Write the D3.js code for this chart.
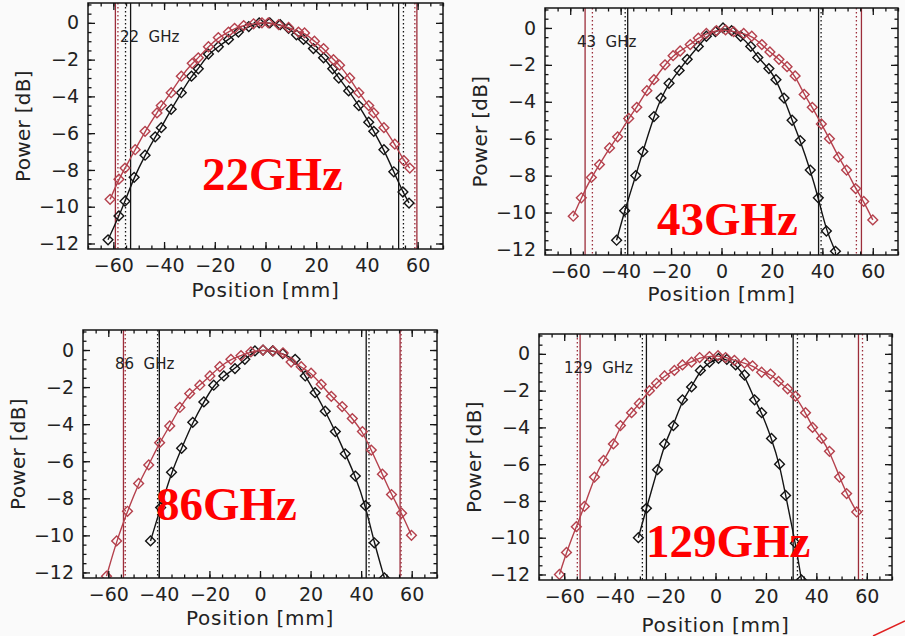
<!DOCTYPE html>
<html>
<head>
<meta charset="utf-8">
<script src="https://cdn.jsdelivr.net/npm/d3@7"></script>
<style>
  body { margin: 0; background: #fafafa; }
  svg { display: block; }
  text { font-family: "DejaVu Sans", sans-serif; }
</style>
</head>
<body>
<div id="chart"></div>
<script>
// beam profiles: position [mm], power [dB]
// k = black (narrow) profile, r = red (wide) profile

// 22 GHz
var pos22k = [-62.1,-57.8,-55.4,-51.8,-47.5,-43.5,-41.1,-37.2,-33.2,-29.2,-26.5,-22.5,-18.6,-14.6,-10.7,-6.6,-2.5,1.7,5.8,9.1,12.2,15.0,18.9,22.9,26.5,28.9,32.8,36.8,40.7,42.7,46.7,50.6,54.2,56.6];
var pow22k = [-11.8,-10.5,-9.7,-8.4,-7.2,-6.2,-5.7,-4.7,-3.8,-2.9,-2.5,-1.7,-1.3,-0.9,-0.5,-0.2,0,0,-0.1,-0.3,-0.65,-0.9,-1.4,-1.9,-2.5,-3.0,-3.7,-4.5,-5.4,-5.9,-6.9,-8.1,-9.2,-9.8];
var pos22r = [-61.3,-57.8,-55.4,-51.4,-47.5,-42.8,-41.1,-37.2,-33.2,-28.9,-26.5,-22.5,-18.6,-14.6,-12.2,-8.6,-4.7,-1.4,1.1,5.2,9.1,13.0,15.4,19.3,22.9,26.8,29.2,33.2,36.8,40.7,42.7,46.7,51.0,54.6,56.9];
var pow22r = [-9.6,-8.5,-7.9,-6.9,-5.9,-4.9,-4.5,-3.8,-2.9,-2.2,-1.9,-1.3,-0.8,-0.5,-0.3,-0.15,-0.05,0,0,-0.1,-0.25,-0.5,-0.55,-1.0,-1.4,-2.0,-2.3,-3.0,-3.8,-4.5,-4.9,-5.7,-6.6,-7.5,-7.9];
// edges: black solid, black dotted, red solid, red dotted
var edges22 = [[-53.2, 52.5], [-55.2, 54.4], [-59.2, 59.7], [-58.2, 58.9]];

// 43 GHz
var pos43k = [-41.6,-38.4,-34,-31.2,-26.8,-24,-20.8,-16.8,-13.6,-9.2,-6,-2.4,0.6,4,7.6,11.6,14.4,18.8,21.6,24.8,28,31.2,35.2,38.4,41.6,45.2];
var pow43k = [-11.5,-9.9,-8.0,-6.7,-4.8,-3.8,-3.0,-2.3,-1.7,-1.0,-0.45,-0.2,0,-0.15,-0.45,-1.0,-1.6,-2.2,-2.8,-3.8,-5.0,-6.1,-7.7,-9.2,-11.0,-12.1];
var pos43r = [-58.8,-55.6,-51.6,-48.4,-44.4,-41.2,-36.8,-33.6,-29.6,-26.8,-22.4,-19.2,-16.4,-12.4,-9.2,-6,-2,1.6,4.8,8.8,12,16,19.2,22.8,26,29.2,32.8,36,39.6,42.8,46.4,49.6,53.2,56.4,60];
var pow43r = [-10.2,-9.2,-8.1,-7.4,-6.5,-5.9,-4.9,-4.3,-3.4,-2.8,-2.0,-1.5,-1.25,-0.9,-0.55,-0.3,-0.15,-0.1,-0.2,-0.3,-0.45,-0.9,-1.3,-1.7,-2.1,-2.6,-3.6,-4.3,-5.2,-6.0,-7.0,-7.7,-8.7,-9.4,-10.4];
var edges43 = [[-37.2, 38.5], [-38.2, 39.5], [-54.1, 55.5], [-51.2, 53.5]];

// 86 GHz
var pos86k = [-43.3,-39.3,-35,-31,-26.6,-22.2,-18.3,-14.3,-9.9,-6,-2,1.2,5,9,13.9,17.9,21.8,25.8,29.8,33.7,37.7,41.7,45.2,49.2];
var pow86k = [-10.3,-8.5,-6.6,-5.3,-3.9,-2.8,-1.9,-1.4,-1.0,-0.5,-0.05,0,-0.05,-0.2,-0.5,-1.4,-2.3,-3.3,-4.4,-5.6,-6.8,-8.4,-10.4,-12.3];
var pos86r = [-60.7,-56.7,-52.4,-48,-44,-39.7,-35.7,-31.7,-27.8,-23.8,-19.8,-15.9,-11.5,-7.5,-3.6,1.2,5.2,9.1,12.3,16.3,20.2,24.2,28.2,32.5,36.5,40.5,44,48.4,52,56,59.9];
var pow86r = [-12.2,-10.3,-8.7,-7.2,-6.2,-5.0,-4.1,-3.1,-2.35,-1.9,-1.4,-0.9,-0.5,-0.3,-0.1,0,-0.05,-0.15,-0.65,-0.9,-1.25,-1.85,-2.5,-3.05,-3.7,-4.4,-5.4,-6.7,-7.8,-8.8,-10.0];
var edges86 = [[-39.8, 42.0], [-40.5, 43.1], [-54.0, 55.4], [-53.3, 55.8]];

// 129 GHz
var pos129k = [-30.6,-27.4,-23,-20.2,-16.7,-13.1,-9.5,-6,-2.4,1.2,4.5,8,11.5,15.5,18.3,22.2,25.4,27.8,31.7,34.1];
var pow129k = [-10.0,-8.4,-6.3,-4.9,-3.9,-2.5,-1.8,-0.9,-0.45,-0.25,-0.3,-0.6,-1.15,-2.5,-3.2,-4.6,-6.0,-7.7,-10.3,-12.3];
var pos129r = [-61.9,-59.1,-55.2,-52,-48,-44.4,-40.5,-37.7,-33.3,-30.2,-26.2,-23.4,-20.2,-16.3,-13.1,-9.5,-6.3,-2.4,1,4,7.5,11.5,14.7,18.3,21.8,25,28.6,31.7,35.7,38.5,42.1,45.2,49.2,52,56];
var pow129r = [-12.0,-10.8,-9.4,-8.3,-6.7,-5.8,-4.9,-3.9,-3.2,-2.7,-2.0,-1.6,-1.2,-0.9,-0.6,-0.45,-0.2,-0.15,-0.1,-0.2,-0.35,-0.5,-0.65,-1.0,-1.1,-1.5,-1.9,-2.3,-3.2,-4.0,-4.6,-5.3,-6.7,-7.6,-8.6];
var edges129 = [[-27.4, 30.8], [-29.0, 32.5], [-53.7, 56.7], [-54.8, 58.3]];

var xTicks = [-60, -40, -20, 0, 20, 40, 60];
var yTicks = [0, -2, -4, -6, -8, -10, -12];
var tagLabels = ["22  GHz", "43  GHz", "86  GHz", "129  GHz"];
var bigLabels = ["22GHz", "43GHz", "86GHz", "129GHz"];

var zip = function(xs, ys) { return xs.map(function(x, i) { return [x, ys[i]]; }); };

var panels = [
  {k: zip(pos22k, pow22k), r: zip(pos22r, pow22r), edges: edges22,
   box: [88, 3, 443, 249], big: [202, 190], titleDy: 48},
  {k: zip(pos43k, pow43k), r: zip(pos43r, pow43r), edges: edges43,
   box: [545, 8, 898, 255], big: [657, 235], titleDy: 46},
  {k: zip(pos86k, pow86k), r: zip(pos86r, pow86r), edges: edges86,
   box: [83, 330, 437, 578], big: [156, 520], titleDy: 47},
  {k: zip(pos129k, pow129k), r: zip(pos129r, pow129r), edges: edges129,
   box: [539, 334, 892, 580], big: [646, 557], titleDy: 52}
];

var black = "#141414", red = "#b5414d", redLine = "#9c2d3a";

var svg = d3.select("#chart").append("svg")
    .attr("width", 905)
    .attr("height", 636);

panels.forEach(function(p, i) {
  var l = p.box[0], t = p.box[1], rr = p.box[2], b = p.box[3];
  var x = d3.scaleLinear().domain([-70, 70]).range([l, rr]);
  var y = d3.scaleLinear().domain([-12.3, 1.08]).range([b, t]);
  var g = svg.append("g");

  g.append("clipPath").attr("id", "clip" + i)
    .append("rect").attr("x", l).attr("y", t).attr("width", rr - l).attr("height", b - t);

  var plot = g.append("g").attr("clip-path", "url(#clip" + i + ")");

  // beam edge markers
  var styles = [[black, null], [black, "1.5,2.5"], [redLine, null], [redLine, "1.5,2.5"]];
  p.edges.forEach(function(pair, j) {
    pair.forEach(function(v) {
      plot.append("line")
        .attr("x1", x(v)).attr("x2", x(v))
        .attr("y1", t).attr("y2", b)
        .attr("stroke", styles[j][0])
        .attr("stroke-width", 1.3)
        .attr("stroke-dasharray", styles[j][1]);
    });
  });

  var line = d3.line()
      .x(function(d) { return x(d[0]); })
      .y(function(d) { return y(d[1]); })
      .curve(d3.curveBasis);

  var diamond = d3.symbol().type(d3.symbolSquare).size(48);

  [[p.k, black], [p.r, red]].forEach(function(s) {
    plot.append("path")
      .attr("d", line(s[0]))
      .attr("fill", "none")
      .attr("stroke", s[1])
      .attr("stroke-width", 1.4);
    plot.selectAll(null)
      .data(s[0])
      .enter()
      .append("path")
      .attr("d", diamond)
      .attr("transform", function(d) { return "translate(" + x(d[0]) + "," + y(d[1]) + ") rotate(45)"; })
      .attr("fill", "none")
      .attr("stroke", s[1])
      .attr("stroke-width", 1.4);
  });

  // axes, ticks pointing inward on all four sides
  var xMinor = d3.range(-70, 71, 5), yMinor = d3.range(-12, 1.01, 0.5);
  var axStyle = function(sel) {
    sel.select(".domain").remove();
    sel.selectAll("line").attr("stroke", black).attr("stroke-width", 1.3);
    sel.selectAll("text").attr("fill", "#222").style("font-size", "19px");
  };

  g.append("g").attr("transform", "translate(0," + b + ")")
    .call(d3.axisBottom(x).tickValues(xMinor).tickSize(-3.5).tickFormat("")).call(axStyle);
  g.append("g").attr("transform", "translate(0," + b + ")")
    .call(d3.axisBottom(x).tickValues(xTicks).tickSize(-7).tickPadding(9.5)).call(axStyle);
  g.append("g").attr("transform", "translate(0," + t + ")")
    .call(d3.axisTop(x).tickValues(xMinor).tickSize(-3.5).tickFormat("")).call(axStyle);
  g.append("g").attr("transform", "translate(0," + t + ")")
    .call(d3.axisTop(x).tickValues(xTicks).tickSize(-7).tickFormat("")).call(axStyle);

  g.append("g").attr("transform", "translate(" + l + ",0)")
    .call(d3.axisLeft(y).tickValues(yMinor).tickSize(-3.5).tickFormat("")).call(axStyle);
  g.append("g").attr("transform", "translate(" + l + ",0)")
    .call(d3.axisLeft(y).tickValues(yTicks).tickSize(-7).tickPadding(9)).call(axStyle);
  g.append("g").attr("transform", "translate(" + rr + ",0)")
    .call(d3.axisRight(y).tickValues(yMinor).tickSize(-3.5).tickFormat("")).call(axStyle);
  g.append("g").attr("transform", "translate(" + rr + ",0)")
    .call(d3.axisRight(y).tickValues(yTicks).tickSize(-7).tickFormat("")).call(axStyle);

  g.append("rect")
    .attr("x", l).attr("y", t).attr("width", rr - l).attr("height", b - t)
    .attr("fill", "none").attr("stroke", black).attr("stroke-width", 1.5);

  g.append("text")
    .attr("x", (l + rr) / 2).attr("y", b + p.titleDy)
    .attr("text-anchor", "middle")
    .attr("fill", "#222")
    .style("font-size", "20px").style("letter-spacing", "0.7px")
    .text("Position [mm]");

  g.append("text")
    .attr("transform", "translate(" + (l - 58) + "," + ((t + b) / 2) + ") rotate(-90)")
    .attr("text-anchor", "middle")
    .attr("fill", "#222")
    .style("font-size", "20px").style("letter-spacing", "0.3px")
    .text("Power [dB]");

  g.append("text")
    .attr("x", l + (i === 3 ? 25 : 32)).attr("y", t + 39)
    .attr("fill", "#222")
    .style("font-size", "15px")
    .style("white-space", "pre")
    .text(tagLabels[i]);

  g.append("text")
    .attr("x", p.big[0]).attr("y", p.big[1])
    .attr("fill", "#ff0000")
    .style("font-family", "'Liberation Serif', 'Times New Roman', serif")
    .style("font-weight", "bold")
    .style("font-size", "47px")
    .text(bigLabels[i]);
});

// pen stroke in the scan's lower right corner
svg.append("line")
  .attr("x1", 873).attr("y1", 636).attr("x2", 905).attr("y2", 621)
  .attr("stroke", "#e02020").attr("stroke-width", 1.5);
</script>
</body>
</html>
